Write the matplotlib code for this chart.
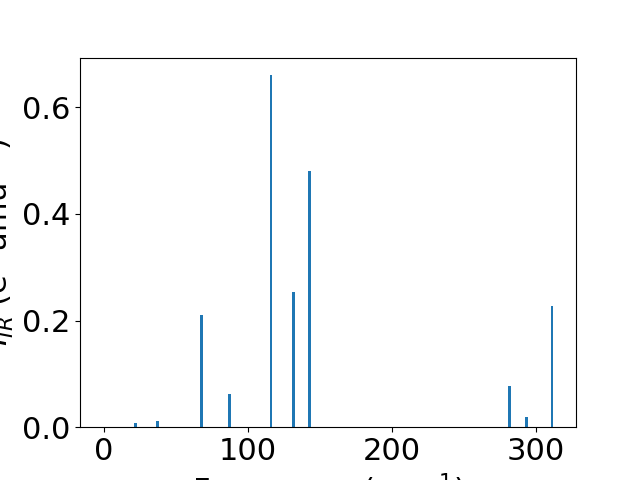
import numpy as np
import matplotlib.pyplot as plt

plt.rcParams['font.size'] = 22

# vibrational frequencies (cm^-1) and IR intensities
freq = np.array([0.0, 21.8, 37.1, 67.7, 87.2, 116.0, 131.7, 142.9, 281.4, 293.2, 311.1])
intensity = np.array([0.0, 0.007, 0.012, 0.210, 0.062, 0.660, 0.254, 0.480, 0.077, 0.019, 0.227])

fig, ax = plt.subplots(figsize=(6.4, 4.8))
ax.bar(freq, intensity, width=2)
ax.set_xlabel(r'Frequency (cm$^{-1}$)')
ax.set_ylabel(r'$I_{IR}$ (e$^2$ amu$^{-1}$)')

plt.savefig('out.png', dpi=100)
